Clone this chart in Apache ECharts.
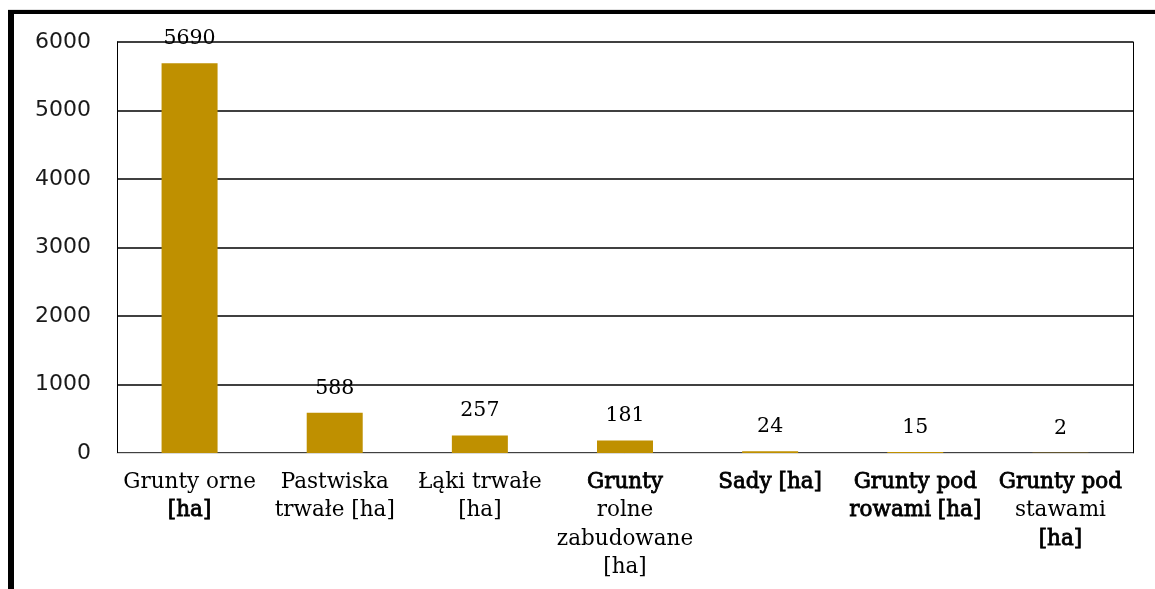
<!DOCTYPE html>
<html>
<head>
<meta charset="utf-8">
<script src="https://cdn.jsdelivr.net/npm/echarts@6/dist/echarts.min.js"></script>
<style>
html,body{margin:0;padding:0;background:#fff;}
#chart{width:1155px;height:589px;}
</style>
</head>
<body>
<div id="chart"></div>
<script>
// ---- data ----
var categories = [
  "Grunty orne\n[ha]",
  "Pastwiska\ntrwałe [ha]",
  "Łąki trwałe\n[ha]",
  "Grunty\nrolne\nzabudowane\n[ha]",
  "Sady [ha]",
  "Grunty pod\nrowami [ha]",
  "Grunty pod\nstawami\n[ha]"
];
var values = [5690, 588, 257, 181, 24, 15, 2];
var yTicks = [0, 1000, 2000, 3000, 4000, 5000, 6000];

// ---- styling (which label lines look heavier in the scan) ----
var boldLines = [[1], [], [], [0], [0], [0, 1], [0, 2]];

var chart = echarts.init(document.getElementById('chart'));
var serif = '"DejaVu Serif", serif';
var sans = '"DejaVu Sans", sans-serif';

chart.setOption({
  animation: false,
  backgroundColor: '#fff',
  grid: { left: 117, right: 22, top: 42, bottom: 136, containLabel: false },
  graphic: [
    { type: 'rect', shape: { x: 8, y: 9, width: 1147, height: 1 }, style: { fill: '#e0e0e0' } },
    { type: 'rect', shape: { x: 8, y: 10, width: 1147, height: 4 }, style: { fill: '#000' } },
    { type: 'rect', shape: { x: 8, y: 10, width: 6, height: 579 }, style: { fill: '#000' } }
  ],
  xAxis: {
    type: 'category',
    data: categories,
    axisLine: { show: true, lineStyle: { color: '#d9d9d9', width: 1 } },
    axisTick: { show: false },
    axisLabel: {
      interval: 0,
      margin: 15,
      color: '#000',
      fontFamily: serif,
      fontSize: 21.5,
      lineHeight: 28.5,
      formatter: function (val, idx) {
        var lines = val.split('\n');
        var bl = boldLines[idx] || [];
        return lines.map(function (l, i) {
          return (bl.indexOf(i) >= 0 ? '{b|' : '{n|') + l + '}';
        }).join('\n');
      },
      rich: {
        n: { fontFamily: serif, fontSize: 21.5, lineHeight: 28.5, color: '#000' },
        b: { fontFamily: serif, fontSize: 21.5, lineHeight: 28.5, color: '#000',
             textBorderColor: '#000', textBorderWidth: 0.8 }
      }
    }
  },
  yAxis: [
    {
      type: 'value',
      min: yTicks[0],
      max: yTicks[yTicks.length - 1],
      interval: yTicks[1] - yTicks[0],
      axisLine: { show: true, lineStyle: { color: '#000', width: 1 } },
      axisTick: { show: false },
      splitLine: { show: true, lineStyle: { color: '#000', width: 1.6 } },
      axisLabel: {
        color: '#1a1a1a', fontFamily: sans, fontSize: 22, margin: 26,
        formatter: function (v) { return String(v); }
      }
    },
    {
      type: 'value',
      position: 'right',
      min: yTicks[0],
      max: yTicks[yTicks.length - 1],
      interval: yTicks[1] - yTicks[0],
      axisLine: { show: true, lineStyle: { color: '#000', width: 1 } },
      axisTick: { show: false },
      splitLine: { show: false },
      axisLabel: { show: false }
    }
  ],
  series: [{
    type: 'bar',
    data: values,
    barWidth: 56,
    itemStyle: { color: '#BF9000' },
    label: {
      show: true,
      position: 'top',
      distance: 14,
      color: '#000',
      fontFamily: serif,
      fontSize: 20.5
    }
  }]
});
</script>
</body>
</html>
